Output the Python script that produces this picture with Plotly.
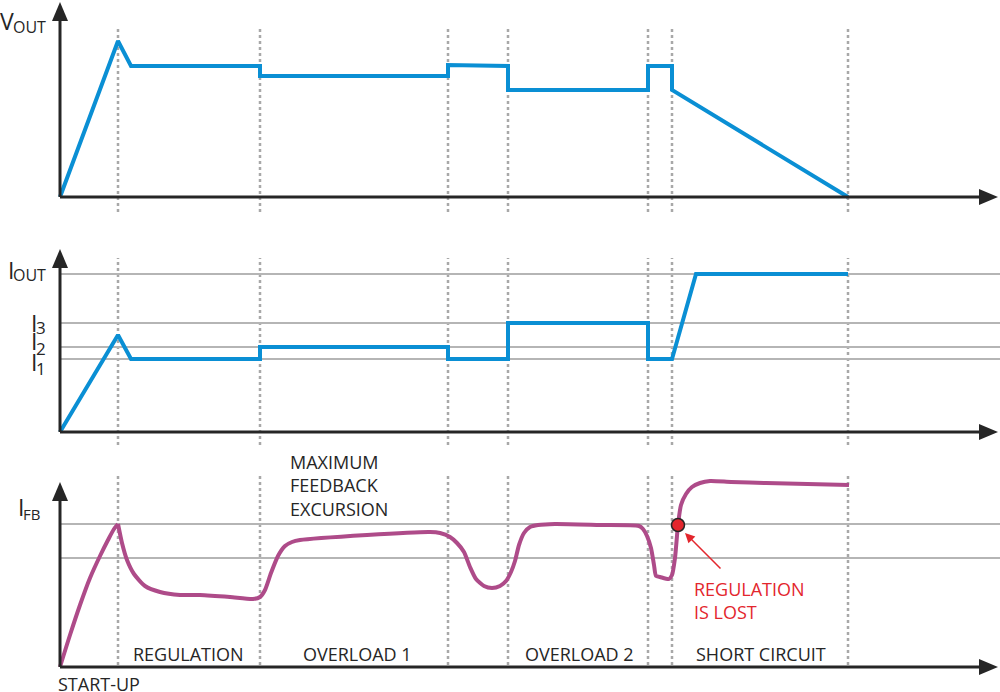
import plotly.graph_objects as go

W, H = 1000, 692

# ---------------- data (time in arbitrary units, values in arbitrary units) -------------
t_events = [118, 260, 448, 508, 648, 672, 848]

vout_t = [60, 118, 131, 260, 260, 448, 448, 508, 508, 648, 648, 672, 672, 848]
vout_v = [0, 156, 131, 131, 121, 121, 132, 131, 107, 107, 131, 131, 107, 0]

iout_t = [60, 118, 131, 260, 260, 448, 448, 508, 508, 648, 648, 672, 696, 848]
iout_v = [0, 97, 73, 73, 85, 85, 73, 73, 109, 109, 73, 73, 158, 158]
iout_levels = [158, 109, 85, 73]
iout_level_subs = ["OUT", "3", "2", "1"]

ifb_rise_t = [60, 70, 80, 90, 100, 108, 114, 118]
ifb_rise_v = [0, 32, 62, 89, 111, 127, 138, 143]

ifb_t = [118, 122, 127, 134, 145, 160, 180, 200, 230, 253, 260, 265, 271, 278, 285, 292,
         300, 367, 430, 440, 450, 457, 464, 470, 476, 484, 492, 500, 506, 511, 515, 519,
         524, 530, 538, 555, 600, 639, 643, 647, 651, 654, 656, 660, 669, 672, 675, 678,
         681, 686, 692, 700, 710, 731, 766, 849]
ifb_v = [143, 124, 107, 93, 81, 75, 72, 72, 70, 68, 70, 77, 94, 111, 121, 125,
         127, 132, 135, 134, 130, 124, 115, 100, 88, 81, 79, 81, 86, 95, 106, 122,
         134, 140, 142, 143, 142, 141, 138, 131, 119, 102, 91, 90, 88, 92, 109, 142,
         162, 173, 180, 184, 186, 185, 184, 182]
ifb_levels = [143, 109]

lost_t, lost_v = 678, 142

phase_labels = ["REGULATION", "OVERLOAD 1", "OVERLOAD 2", "SHORT CIRCUIT"]
phase_t = [188, 357, 579, 761]

# ---------------- layout helpers (pixel geometry) ----------------
AX_X = 60          # pixel x of vertical axes
ZERO = [197, 432, 667]   # pixel y of each horizontal axis
DOM = [(0, 215), (240, 450), (460, 692)]  # pixel y span of each panel
TIP_Y = [2, 249, 482]
DOT_SPAN = [(28, 212), (258, 445), (473, 665)]

def px(x):
    return x / W

def py(y):
    return 1 - y / H

INK = "#262626"
BLUE = "#0a8fd4"
MAG = "#ae4b89"
GRID = "#b5b5b5"
DOTC = "#a8a8a8"
RED = "#e3262d"
FONT = "Open Sans"

fig = go.Figure()

fig.add_trace(go.Scatter(x=vout_t, y=vout_v, mode="lines", yaxis="y",
                         line=dict(color=BLUE, width=4), hoverinfo="skip"))
fig.add_trace(go.Scatter(x=iout_t, y=iout_v, mode="lines", yaxis="y2",
                         line=dict(color=BLUE, width=4), hoverinfo="skip"))
fig.add_trace(go.Scatter(x=ifb_rise_t, y=ifb_rise_v, mode="lines", yaxis="y3",
                         line=dict(color=MAG, width=4, shape="spline", smoothing=0.8),
                         hoverinfo="skip"))
fig.add_trace(go.Scatter(x=ifb_t, y=ifb_v, mode="lines", yaxis="y3",
                         line=dict(color=MAG, width=4, shape="spline", smoothing=0.6),
                         hoverinfo="skip"))
fig.add_trace(go.Scatter(x=[lost_t], y=[lost_v], mode="markers", yaxis="y3",
                         marker=dict(size=13, color=RED, line=dict(color=INK, width=1.5)),
                         hoverinfo="skip"))

shapes = []
# dotted event lines
for i in range(3):
    for t in t_events:
        shapes.append(dict(type="line", xref="x", yref="paper", x0=t, x1=t,
                           y0=py(DOT_SPAN[i][1]), y1=py(DOT_SPAN[i][0]),
                           line=dict(color=DOTC, width=2.5, dash="dot"), layer="below"))
# level gridlines
for lv in iout_levels:
    shapes.append(dict(type="line", xref="paper", yref="y2", x0=px(AX_X), x1=1,
                       y0=lv, y1=lv, line=dict(color=GRID, width=2), layer="below"))
for lv in ifb_levels:
    shapes.append(dict(type="line", xref="paper", yref="y3", x0=px(AX_X), x1=1,
                       y0=lv, y1=lv, line=dict(color=GRID, width=2), layer="below"))
# axes with arrowheads
for i in range(3):
    z = ZERO[i]
    shapes.append(dict(type="line", xref="paper", yref="paper", x0=px(AX_X), x1=px(982),
                       y0=py(z), y1=py(z), line=dict(color=INK, width=3)))
    shapes.append(dict(type="line", xref="paper", yref="paper", x0=px(AX_X), x1=px(AX_X),
                       y0=py(z), y1=py(TIP_Y[i] + 15), line=dict(color=INK, width=3)))
    tip = 998
    shapes.append(dict(type="path", xref="paper", yref="paper",
                       path=f"M {px(tip)},{py(z)} L {px(tip-19)},{py(z-8)} L {px(tip-19)},{py(z+8)} Z",
                       fillcolor=INK, line=dict(color=INK, width=0)))
    ty = TIP_Y[i]
    shapes.append(dict(type="path", xref="paper", yref="paper",
                       path=f"M {px(AX_X)},{py(ty)} L {px(AX_X-8)},{py(ty+19)} L {px(AX_X+8)},{py(ty+19)} Z",
                       fillcolor=INK, line=dict(color=INK, width=0)))

annotations = []

def txt(x, y, s, size, color=INK, xanchor="center", yanchor="middle", align="center"):
    annotations.append(dict(x=px(x), y=py(y), xref="paper", yref="paper", text=s,
                            showarrow=False, xanchor=xanchor, yanchor=yanchor, align=align,
                            borderpad=0, borderwidth=0,
                            font=dict(family=FONT, size=size, color=color)))

# axis labels (main letter + subscript)
txt(7, 21, "V", 23)
txt(13, 27, "OUT", 16, xanchor="left")
txt(10.5, 269.5, "I", 23)
txt(13, 275, "OUT", 16, xanchor="left")
lvl_main_y = [None, 323.5, 340.5, 361.5]
lvl_sub_y = [None, 327, 348, 368.5]
for k in range(1, 4):
    txt(33.5, lvl_main_y[k], "I", 23)
    txt(36, lvl_sub_y[k], iout_level_subs[k], 17, xanchor="left")
txt(20.5, 506.5, "I", 23)
txt(23, 514, "FB", 15, xanchor="left")

for lab, t in zip(phase_labels, phase_t):
    txt(t, 654, lab, 18)
txt(58, 684, "START-UP", 18, xanchor="left")
txt(290, 486, "MAXIMUM<br>FEEDBACK<br>EXCURSION", 18, xanchor="left", align="left")
txt(694, 600, "REGULATION<br>IS LOST", 18, color=RED, xanchor="left", align="left")

# red arrow pointing at the lost-regulation dot
annotations.append(dict(x=px(685), y=py(533), xref="paper", yref="paper", text="",
                        showarrow=True, ax=37, ay=37, arrowhead=2, arrowsize=1.3,
                        arrowwidth=1.5, arrowcolor=RED))

fig.update_layout(
    width=W, height=H, margin=dict(l=0, r=0, t=0, b=0),
    paper_bgcolor="white", plot_bgcolor="white", showlegend=False,
    xaxis=dict(range=[0, W], domain=[0, 1], visible=False, fixedrange=True),
    yaxis=dict(domain=[py(DOM[0][1]), py(DOM[0][0])],
               range=[ZERO[0] - DOM[0][1], ZERO[0] - DOM[0][0]], visible=False, anchor="x"),
    yaxis2=dict(domain=[py(DOM[1][1]), py(DOM[1][0])],
                range=[ZERO[1] - DOM[1][1], ZERO[1] - DOM[1][0]], visible=False, anchor="x"),
    yaxis3=dict(domain=[py(DOM[2][1]), py(DOM[2][0])],
                range=[ZERO[2] - DOM[2][1], ZERO[2] - DOM[2][0]], visible=False, anchor="x"),
    shapes=shapes, annotations=annotations,
)

fig.write_html("out.html", config={"displayModeBar": False},
               post_script="document.body.style.margin='0';document.body.style.overflow='hidden';")
